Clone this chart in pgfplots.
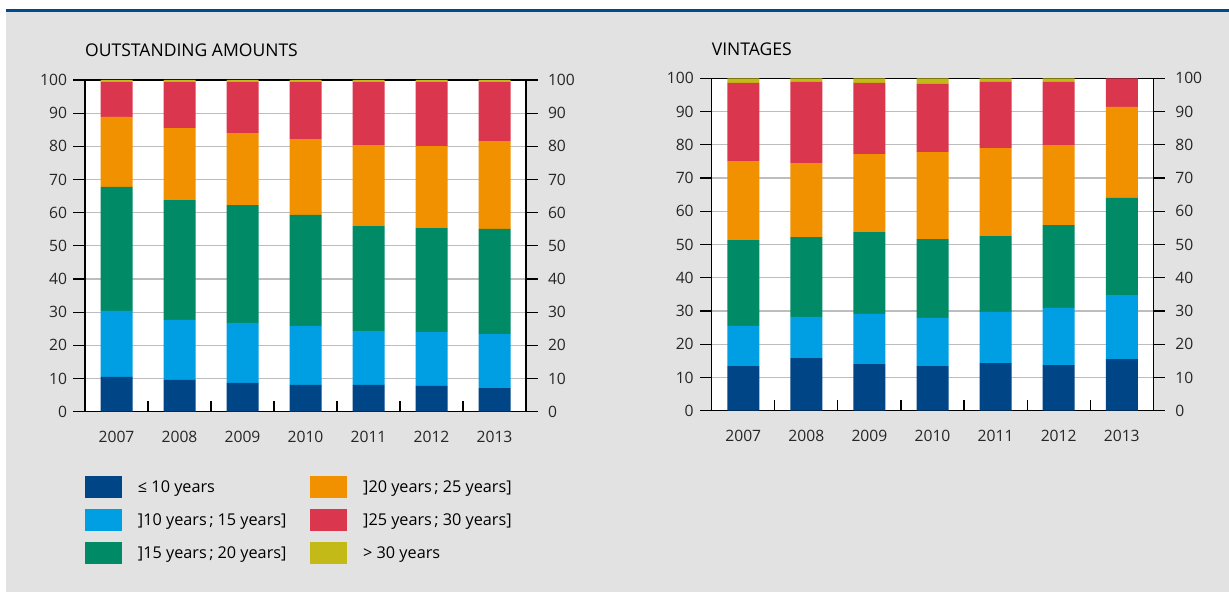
\documentclass[border=0pt]{standalone}
\usepackage{pgfplots}
\pgfplotsset{compat=1.18}
\usepackage{pgfplotstable}
\usepackage{fontspec}
\setmainfont{Open Sans}

\definecolor{bgGray}{HTML}{E2E2E2}
\definecolor{topBlue}{HTML}{004A8F}
\definecolor{cA}{HTML}{004687}
\definecolor{cB}{HTML}{009FE3}
\definecolor{cC}{HTML}{008B66}
\definecolor{cD}{HTML}{F29100}
\definecolor{cE}{HTML}{DA374F}
\definecolor{cF}{HTML}{C3BA17}
\definecolor{gridGray}{HTML}{BDBDBD}
\definecolor{labelGray}{HTML}{262626}

% shares by maturity bucket, in % (x = 0 for 2007 ... 6 for 2013)
\pgfplotstableread{
x a b c d e f
0 10.5 19.9 37.4 21.1 10.6 0.5
1 9.6 18.1 36.2 21.6 14.0 0.5
2 8.7 18.1 35.5 21.7 15.5 0.5
3 8.1 17.8 33.4 22.9 17.3 0.5
4 8.1 16.2 31.8 24.3 19.1 0.5
5 7.8 16.2 31.5 24.6 19.4 0.5
6 7.1 16.3 31.7 26.5 17.9 0.5
}\outstanding

\pgfplotstableread{
x a b c d e f
0 13.4 12.1 25.8 23.8 23.5 1.4
1 15.8 12.4 24.0 22.3 24.4 1.1
2 14.0 15.1 24.6 23.5 21.4 1.4
3 13.4 14.5 23.7 26.2 20.5 1.7
4 14.3 15.4 22.8 26.5 19.9 1.1
5 13.7 17.2 24.9 24.1 19.0 1.1
6 15.5 19.3 29.2 27.4 8.6 0.0
}\vintages

\newcommand\tickfont{\fontsize{15.7}{18}\selectfont}
\newcommand\legfont{\fontsize{16.3}{19}\selectfont}
\newcommand\sep{\hspace{2.5bp};\hspace{4bp}}

\pgfplotsset{
  panel/.style={
    scale only axis,
    anchor=south west,
    xmin=-0.5, xmax=6.5, ymin=0, ymax=100,
    axis line style={line width=1.2bp, black},
    every tick/.style={line width=1.2bp, black},
    tick label style={font=\tickfont, text=labelGray},
    /pgf/number format/assume math mode=true,
    ytick={0,10,...,100},
  },
  bars panel/.style={
    panel,
    ybar stacked, bar width=32bp,
    axis background/.style={fill=white},
    tick align=inside,
    xtick={0,1,2,3,4,5,6},
    xticklabels={2007,2008,2009,2010,2011,2012,2013},
    xticklabel style={yshift=-15.5bp},
    minor xtick={0.5,1.5,2.5,3.5,4.5,5.5},
    major tick length=0pt,
    minor tick length=10.7bp,
    xtick pos=bottom,
    yticklabels={},
    ymajorgrids,
    major grid style={gridGray, line width=1.2bp},
    title style={at={(0,1)}, anchor=base west, inner sep=0pt,
      yshift=17.3bp, font=\fontsize{17.6}{20}\selectfont, text=black},
    every axis plot post/.append style={
      legend image code/.code={\fill[##1] (0bp,-5.4bp) rectangle (37bp,16.6bp);}},
  },
  left ticks/.style={
    panel, hide x axis,
    ytick pos=left, tick align=outside, major tick length=11.5bp,
    yticklabel style={xshift=-3bp},
  },
  right ticks/.style={
    panel, hide x axis,
    ytick pos=right, yticklabel pos=right,
    tick align=outside, major tick length=11.5bp,
    yticklabel style={xshift=7bp},
  },
}

\begin{document}
\begin{tikzpicture}
\useasboundingbox (0,0) rectangle (1229bp,592bp);
\fill[white] (0,0) rectangle (1229bp,592bp);
\fill[bgGray] (6bp,0) rectangle (1229bp,580bp);
\fill[topBlue] (6bp,580bp) rectangle (1229bp,582.5bp);

% ---- outstanding amounts ----
\begin{axis}[bars panel, at={(85bp,180.3bp)}, width=441bp, height=331.7bp,
  title={OUTSTANDING AMOUNTS},
  legend columns=3, transpose legend,
  legend style={at={(0,-0.1928)}, anchor=north west, draw=none, fill=none,
    inner sep=0pt, outer sep=0pt, font=\legfont, text=black,
    row sep=11bp,
    /tikz/every odd column/.style={column sep=14bp},
    /tikz/every even column/.style={column sep=21.7bp},
    cells={anchor=base west, inner xsep=0pt, inner ysep=0pt}},
]
\addplot[fill=cA, draw=none] table[x=x, y=a] {\outstanding};
\addplot[fill=cB, draw=none] table[x=x, y=b] {\outstanding};
\addplot[fill=cC, draw=none] table[x=x, y=c] {\outstanding};
\addplot[fill=cD, draw=none] table[x=x, y=d] {\outstanding};
\addplot[fill=cE, draw=none] table[x=x, y=e] {\outstanding};
\addplot[fill=cF, draw=none] table[x=x, y=f] {\outstanding};
\legend{≤ 10 years, ]10 years\sep 15 years], ]15 years\sep 20 years],
  ]20 years\sep 25 years], ]25 years\sep 30 years], > 30 years}
\end{axis}
\begin{axis}[left ticks, at={(85bp,180.3bp)}, width=441bp, height=331.7bp]
\end{axis}
\begin{axis}[right ticks, at={(85bp,180.3bp)}, width=441bp, height=331.7bp]
\end{axis}

% ---- vintages ----
\begin{axis}[bars panel, at={(711.7bp,181.3bp)}, width=441.6bp, height=332.4bp,
  title={VINTAGES}]
\addplot[fill=cA, draw=none] table[x=x, y=a] {\vintages};
\addplot[fill=cB, draw=none] table[x=x, y=b] {\vintages};
\addplot[fill=cC, draw=none] table[x=x, y=c] {\vintages};
\addplot[fill=cD, draw=none] table[x=x, y=d] {\vintages};
\addplot[fill=cE, draw=none] table[x=x, y=e] {\vintages};
\addplot[fill=cF, draw=none] table[x=x, y=f] {\vintages};
\end{axis}
\begin{axis}[left ticks, at={(711.7bp,181.3bp)}, width=441.6bp, height=332.4bp]
\end{axis}
\begin{axis}[right ticks, at={(711.7bp,181.3bp)}, width=441.6bp, height=332.4bp]
\end{axis}
\end{tikzpicture}
\end{document}
